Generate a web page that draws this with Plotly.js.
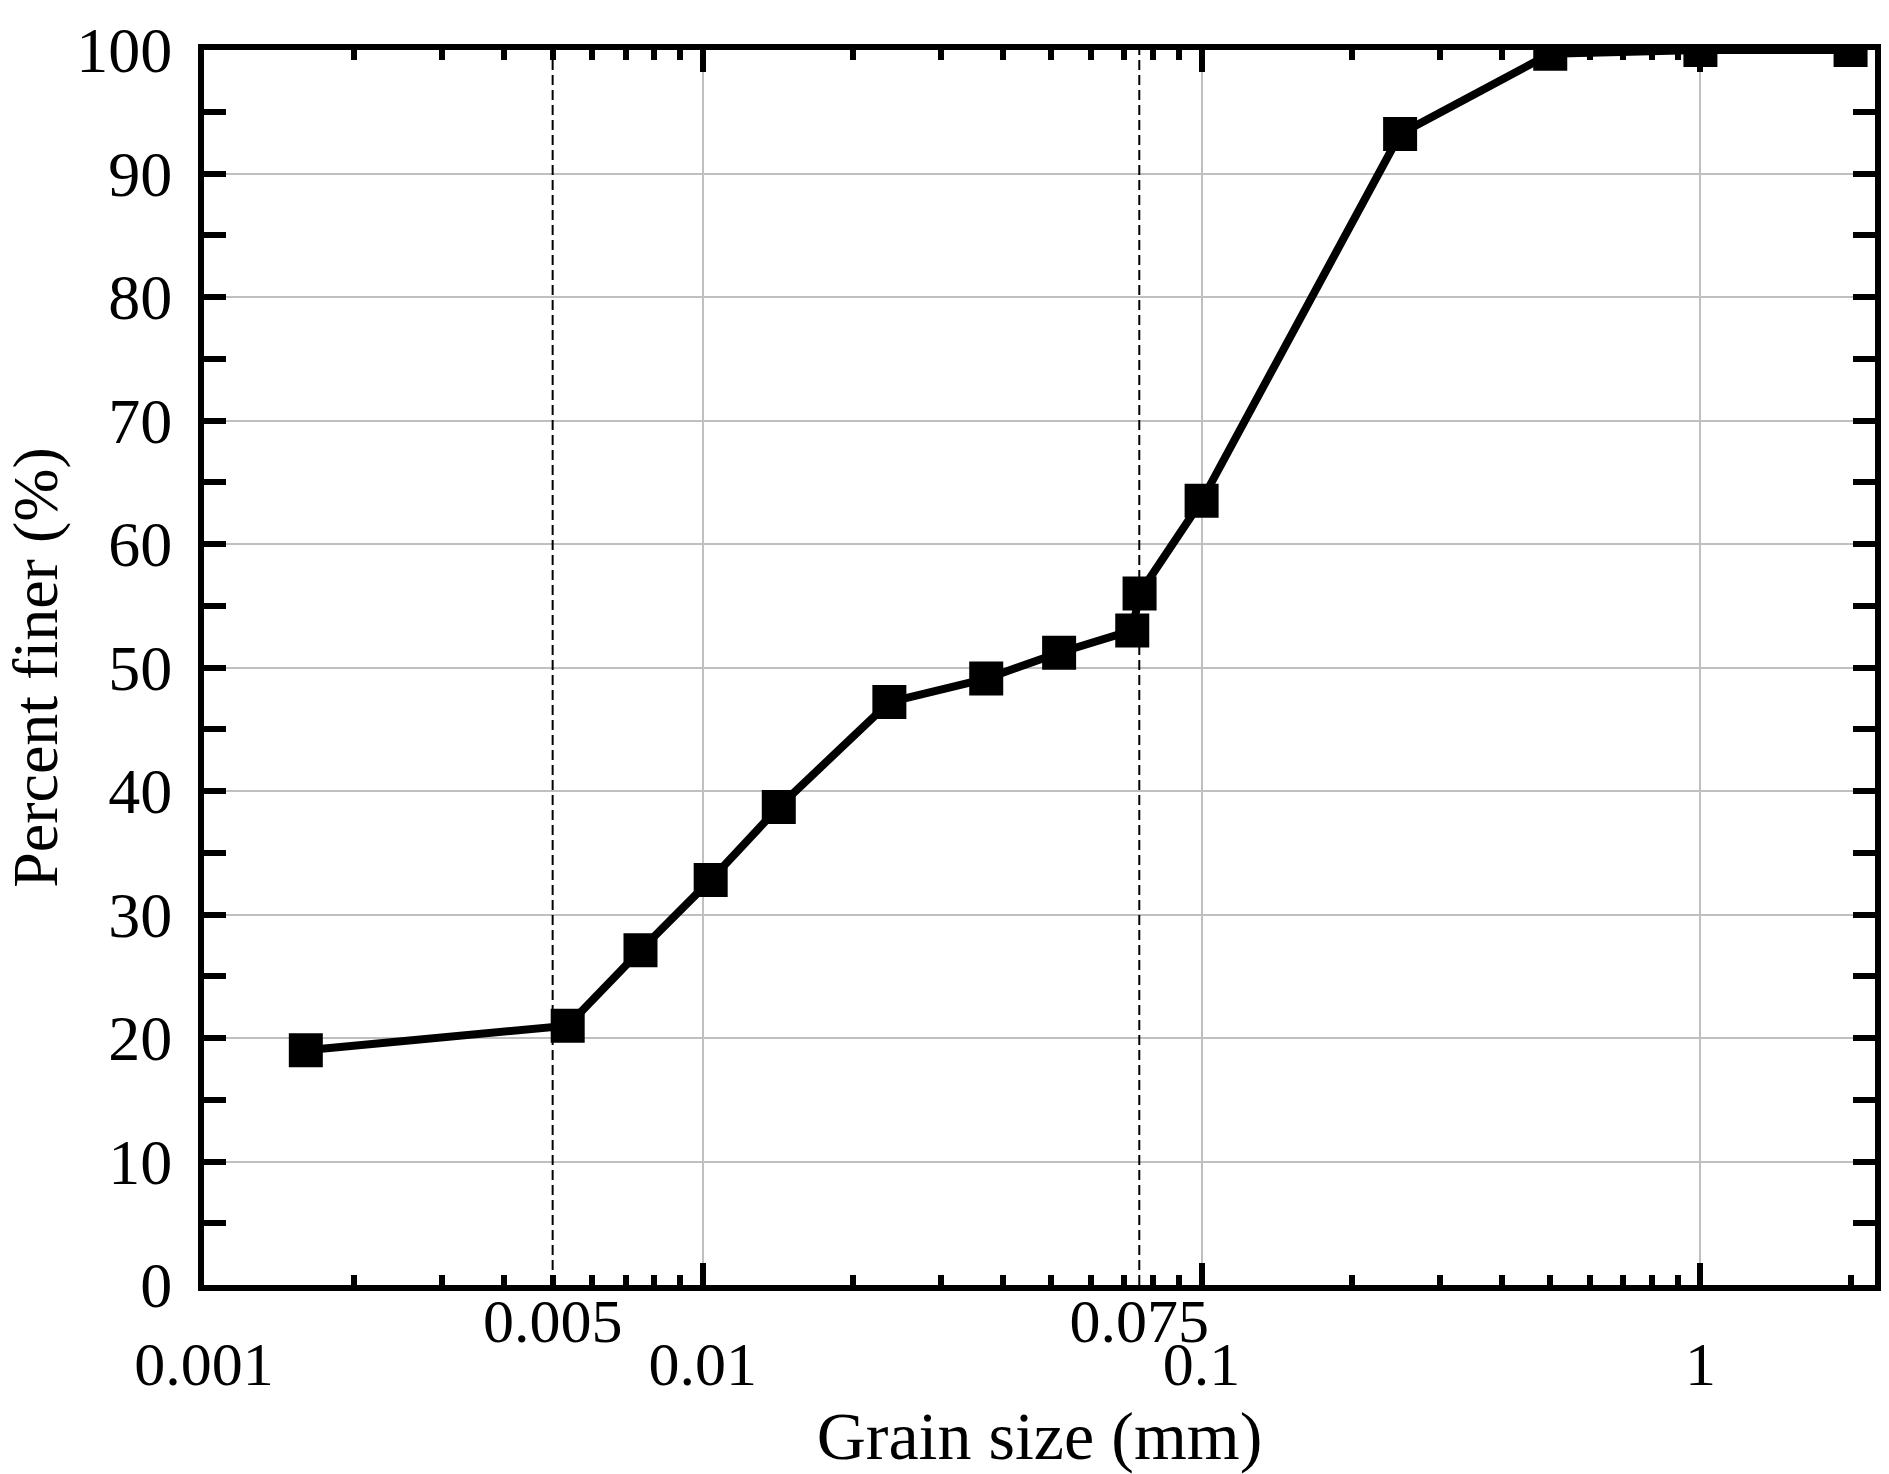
<!DOCTYPE html>
<html>
<head>
<meta charset="utf-8">
<script src="https://cdn.plot.ly/plotly-3.0.1.min.js"></script>
<style>
  html, body { margin: 0; padding: 0; background: #ffffff; }
  #chart { width: 1889px; height: 1474px; }
</style>
</head>
<body>
<div id="chart"></div>
<script>
// Grain size distribution
const grainSize = [0.0016, 0.00536, 0.0075, 0.01037, 0.0142, 0.02366, 0.037, 0.0518, 0.0726, 0.0751, 0.1, 0.25, 0.5, 1, 2];
const percentFiner = [19.0, 21.0, 27.1, 32.8, 38.7, 47.2, 49.1, 51.2, 53.0, 56.0, 63.5, 93.2, 99.7, 100, 100];

// Reference (dashed) limits
const limitSizes = [0.005, 0.075];
const limitLabels = ['0.005', '0.075'];
const limitSpan = [0, 100];

// Axis ticks
const xTickVals = [0.001, 0.01, 0.1, 1];
const xTickText = ['0.001', '0.01', '0.1', '1'];

const FONT = 'Liberation Serif, Times New Roman, serif';

const traces = [];
limitSizes.forEach(function (v) {
  traces.push({
    x: [v, v],
    y: limitSpan,
    xaxis: 'x2',
    yaxis: 'y',
    mode: 'lines',
    line: { color: '#000000', width: 2, dash: '10px,5px' },
    hoverinfo: 'skip',
    showlegend: false
  });
});
traces.push({
  x: grainSize,
  y: percentFiner,
  mode: 'lines+markers',
  line: { color: '#000000', width: 8 },
  marker: { symbol: 'square', size: 34, color: '#000000' },
  showlegend: false
});

const xRange = [-3, 0.35];

const layout = {
  width: 1889,
  height: 1474,
  paper_bgcolor: '#ffffff',
  plot_bgcolor: '#ffffff',
  margin: { l: 204, r: 14, t: 50, b: 189 },
  font: { family: FONT, color: '#000000', size: 62 },
  showlegend: false,
  xaxis: {
    type: 'log',
    range: xRange,
    tickmode: 'array',
    tickvals: xTickVals,
    ticktext: xTickText,
    ticks: 'inside',
    ticklen: 22,
    tickwidth: 6,
    tickcolor: '#000000',
    minor: { ticks: 'inside', ticklen: 10, tickwidth: 6, tickcolor: '#000000', dtick: 'D1', showgrid: false },
    showline: true,
    linecolor: '#000000',
    linewidth: 6,
    mirror: 'allticks',
    showgrid: true,
    gridcolor: '#c0c0c0',
    gridwidth: 2,
    zeroline: false,
    tickfont: { family: FONT, size: 62, color: '#000000' },
    ticklabelstandoff: 20,
    title: { text: 'Grain size (mm)', font: { family: FONT, size: 68, color: '#000000' }, standoff: 24 }
  },
  xaxis2: {
    type: 'log',
    range: xRange,
    overlaying: 'x',
    side: 'bottom',
    tickmode: 'array',
    tickvals: limitSizes,
    ticktext: limitLabels,
    ticks: '',
    showline: false,
    showgrid: false,
    zeroline: false,
    tickfont: { family: FONT, size: 62, color: '#000000' },
    ticklabelstandoff: -6
  },
  yaxis: {
    range: [0, 100],
    dtick: 10,
    ticks: 'inside',
    ticklen: 22,
    tickwidth: 6,
    tickcolor: '#000000',
    minor: { ticks: 'inside', ticklen: 10, tickwidth: 6, tickcolor: '#000000', dtick: 5, showgrid: false },
    showline: true,
    linecolor: '#000000',
    linewidth: 6,
    mirror: 'allticks',
    showgrid: true,
    gridcolor: '#c0c0c0',
    gridwidth: 2,
    zeroline: false,
    tickfont: { family: FONT, size: 64, color: '#000000' },
    ticklabelstandoff: 13,
    title: { text: 'Percent finer (%)', font: { family: FONT, size: 64, color: '#000000' }, standoff: 4 }
  }
};

Plotly.newPlot('chart', traces, layout, { displayModeBar: false, staticPlot: true });
</script>
</body>
</html>
